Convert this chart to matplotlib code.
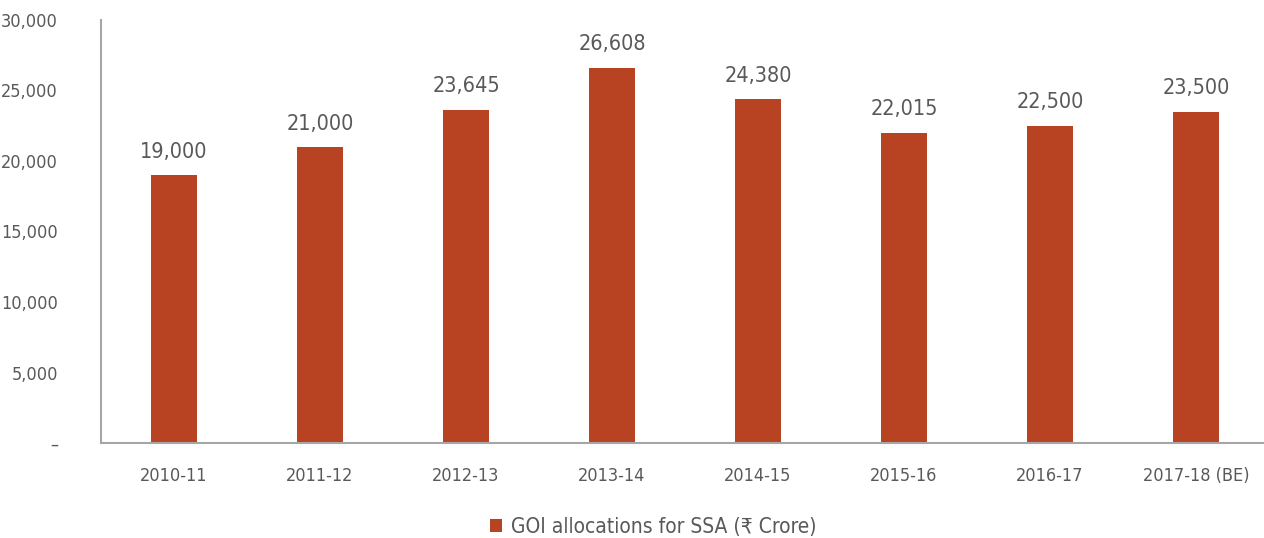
import matplotlib
matplotlib.use('Agg')
import matplotlib.pyplot as plt
from matplotlib.ticker import FuncFormatter

# data
years = ["2010-11", "2011-12", "2012-13", "2013-14", "2014-15", "2015-16", "2016-17", "2017-18 (BE)"]
allocations = [19000, 21000, 23645, 26608, 24380, 22015, 22500, 23500]
y_ticks = [0, 5000, 10000, 15000, 20000, 25000, 30000]

plt.rcParams['font.family'] = ['DejaVu Sans']
plt.rcParams['font.stretch'] = 'condensed'

bar_colour = "#B84322"
text_colour = "#595959"

fig = plt.figure(figsize=(12.64, 5.38), dpi=100)
ax = fig.add_axes([101 / 1264, 95 / 538, 1168 / 1264, 423 / 538])

x = list(range(len(years)))
bars = ax.bar(x, allocations, width=0.31, color=bar_colour, label="GOI allocations for SSA (₹ Crore)")

for xi, v in zip(x, allocations):
    ax.text(xi, v + 950, f"{v:,}", ha='center', va='bottom', fontsize=15.5, color=text_colour)

ax.set_xlim(-0.5, len(years) - 0.5)
ax.set_ylim(0, 30000)
ax.set_yticks(y_ticks)
ax.yaxis.set_major_formatter(FuncFormatter(lambda v, p: "–" if v == 0 else f"{int(v):,}"))
ax.set_xticks(x)
ax.set_xticklabels(years)

ax.tick_params(axis='both', length=0, labelsize=13, labelcolor=text_colour)
ax.tick_params(axis='y', pad=31)
ax.tick_params(axis='x', pad=17)

for side in ['top', 'right']:
    ax.spines[side].set_visible(False)
for side in ['left', 'bottom']:
    ax.spines[side].set_color("#A6A6A6")
    ax.spines[side].set_linewidth(1.5)

fig.legend(loc='center', bbox_to_anchor=(653 / 1264, 1 - 527 / 538), frameon=False,
           fontsize=15, labelcolor=text_colour, handlelength=0.6, handleheight=0.6, handletextpad=0.4)

plt.savefig("out.png", dpi=100)
plt.close()
